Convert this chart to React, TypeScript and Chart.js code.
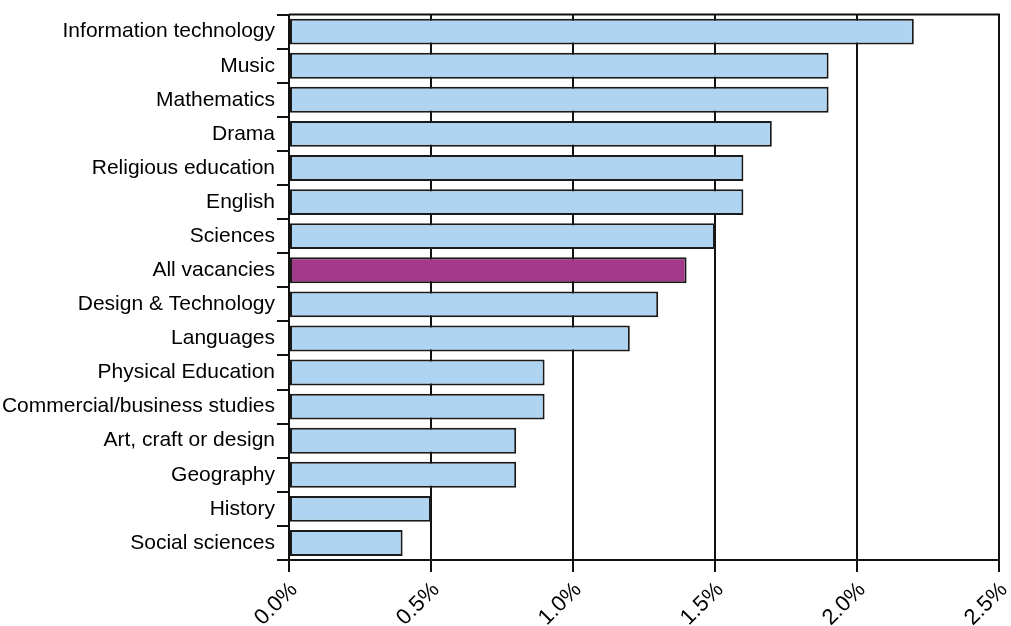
import React, { useEffect, useRef } from "react";
import { Chart, registerables } from "chart.js";

Chart.register(...registerables);

const categories = [
  "Information technology",
  "Music",
  "Mathematics",
  "Drama",
  "Religious education",
  "English",
  "Sciences",
  "All vacancies",
  "Design & Technology",
  "Languages",
  "Physical Education",
  "Commercial/business studies",
  "Art, craft or design",
  "Geography",
  "History",
  "Social sciences",
];

const values = [2.2, 1.9, 1.9, 1.7, 1.6, 1.6, 1.5, 1.4, 1.3, 1.2, 0.9, 0.9, 0.8, 0.8, 0.5, 0.4];

const highlightCategory = "All vacancies";
const xTicks = [0, 0.5, 1.0, 1.5, 2.0, 2.5];

const BLUE = "#AED4F1";
const PURPLE = "#A33A89";
const LINE = "#111111";
const FONT = { family: "'Liberation Sans', Arial, sans-serif", size: 21 };

const frame = {
  id: "frame",
  afterDatasetsDraw(chart: any) {
    const { ctx, chartArea } = chart;
    ctx.save();
    ctx.strokeStyle = LINE;
    ctx.lineWidth = 2;
    ctx.beginPath();
    ctx.moveTo(chartArea.left, chartArea.top);
    ctx.lineTo(chartArea.right, chartArea.top);
    ctx.lineTo(chartArea.right, chartArea.bottom);
    ctx.stroke();
    ctx.restore();
  },
};

export default function App() {
  const ref = useRef<HTMLCanvasElement>(null);

  useEffect(() => {
    document.body.style.margin = "0";
    const chart = new Chart(ref.current!, {
      type: "bar",
      data: {
        labels: categories,
        datasets: [
          {
            data: values,
            backgroundColor: categories.map((c) => (c === highlightCategory ? PURPLE : BLUE)),
            borderColor: "#1a1a1a",
            borderWidth: 2,
            borderSkipped: false,
            barPercentage: 0.76,
            categoryPercentage: 1,
          },
        ],
      },
      options: {
        indexAxis: "y",
        responsive: false,
        animation: false,
        layout: { padding: { top: 13, right: 12, left: 0, bottom: 0 } },
        plugins: { legend: { display: false }, tooltip: { enabled: false } },
        scales: {
          x: {
            min: 0,
            max: 2.5,
            afterBuildTicks: (scale: any) => {
              scale.ticks = xTicks.map((v) => ({ value: v }));
            },
            afterFit: (scale: any) => {
              scale.height = 66;
              scale.paddingRight = 0;
              scale.paddingLeft = 0;
            },
            ticks: {
              autoSkip: false,
              minRotation: 45,
              maxRotation: 45,
              padding: 5,
              labelOffset: 5,
              color: "#000",
              font: { ...FONT, size: 22 },
              callback: (v: any) => Number(v).toFixed(1) + "%",
            },
            grid: { color: LINE, lineWidth: 2, tickLength: 12, drawOnChartArea: true },
            border: { display: true, color: LINE, width: 2 },
          },
          y: {
            afterFit: (scale: any) => {
              scale.width = 289;
            },
            ticks: { color: "#000", font: FONT, padding: 2, autoSkip: false },
            grid: { color: LINE, lineWidth: 2, tickLength: 12, drawOnChartArea: false, offset: true },
            border: { display: true, color: LINE, width: 2 },
          },
        },
      },
      plugins: [frame],
    });
    return () => chart.destroy();
  }, []);

  return <canvas ref={ref} width={1011} height={626} style={{ display: "block" }} />;
}
